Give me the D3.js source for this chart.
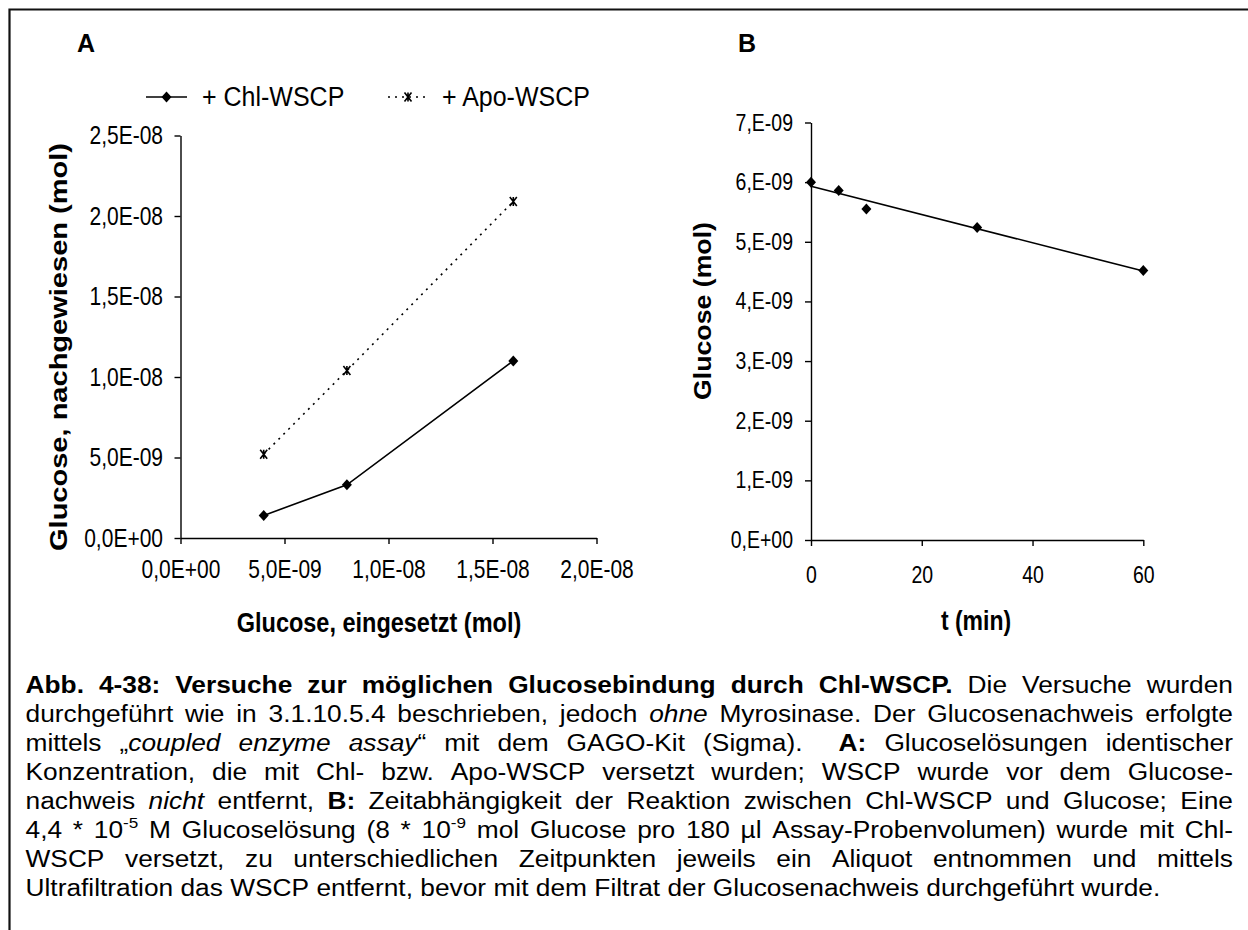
<!DOCTYPE html>
<html>
<head>
<meta charset="utf-8">
<script src="https://cdn.jsdelivr.net/npm/d3@7"></script>
<style>
  body { margin: 0; background: #fff; }
  svg { display: block; font-family: "Liberation Sans", Arial, sans-serif; }
</style>
</head>
<body>
<svg id="fig" width="1248" height="930"></svg>
<script>
// ---- Panel A: glucose recovered vs. glucose added ----
const inputA   = [4e-9, 8e-9, 1.6e-8];
const chlA     = [1.4e-9, 3.3e-9, 1.1e-8];
const apoA     = [5.2e-9, 1.04e-8, 2.09e-8];
const xTicksA  = [0, 5e-9, 1e-8, 1.5e-8, 2e-8];
const yTicksA  = [0, 5e-9, 1e-8, 1.5e-8, 2e-8, 2.5e-8];
const seriesA  = ["+ Chl-WSCP", "+ Apo-WSCP"];

// ---- Panel B: glucose over time with Chl-WSCP ----
const timeB    = [0, 5, 10, 30, 60];
const glucB    = [6.0e-9, 5.86e-9, 5.55e-9, 5.24e-9, 4.52e-9];
const xTicksB  = [0, 20, 40, 60];
const yTicksB  = [0, 1e-9, 2e-9, 3e-9, 4e-9, 5e-9, 6e-9, 7e-9];

// ---- Caption (§ = bold, ~ = italic, ^ = superscript) ----
const captionLines = [
  "§Abb. 4-38: Versuche zur möglichen Glucosebindung durch Chl-WSCP.§ Die Versuche wurden",
  "durchgeführt wie in 3.1.10.5.4 beschrieben, jedoch ~ohne~ Myrosinase. Der Glucosenachweis erfolgte",
  "mittels „~coupled enzyme assay~“ mit dem GAGO-Kit (Sigma).  §A:§ Glucoselösungen identischer",
  "Konzentration, die mit Chl- bzw. Apo-WSCP versetzt wurden; WSCP wurde vor dem Glucose-",
  "nachweis ~nicht~ entfernt, §B:§ Zeitabhängigkeit der Reaktion zwischen Chl-WSCP und Glucose; Eine",
  "4,4 * 10^-5^ M Glucoselösung (8 * 10^-9^ mol Glucose pro 180 µl Assay-Probenvolumen) wurde mit Chl-",
  "WSCP versetzt, zu unterschiedlichen Zeitpunkten jeweils ein Aliquot entnommen und mittels",
  "Ultrafiltration das WSCP entfernt, bevor mit dem Filtrat der Glucosenachweis durchgeführt wurde."
];

const svg = d3.select("#fig");
const K = 1.2; // vertical stretch of the embedded chart lettering

// frame
svg.append("path")
  .attr("d", "M9.5,930 L9.5,9.5 L1248,9.5")
  .attr("fill", "none").attr("stroke", "#111").attr("stroke-width", 2.2);

// number formats in the German Excel style
function sciFmt(decimals) {
  return v => {
    if (v === 0) return (decimals ? "0,0" : "0,") + "E+00";
    const e = Math.floor(Math.log10(Math.abs(v)) + 1e-9);
    const m = v / Math.pow(10, e);
    const ms = decimals ? m.toFixed(decimals).replace(".", ",") : m.toFixed(0) + ",";
    return ms + "E" + (e < 0 ? "-" : "+") + String(Math.abs(e)).padStart(2, "0");
  };
}

const diamond = (w, h) => `M0,${-h}L${w},0L0,${h}L${-w},0Z`;
const star = (w, h) => `M${-w},${-h}L${w},${h}M${w},${-h}L${-w},${h}M0,${-h}L0,${h}`;

function styleAxis(g, fontSize) {
  g.select(".domain").attr("stroke", "#000").attr("stroke-width", 1.4);
  g.selectAll(".tick line").attr("stroke", "#000").attr("stroke-width", 1.4);
  g.selectAll(".tick text").attr("fill", "#000")
    .style("font-size", fontSize + "px")
    .style("font-family", '"Liberation Sans", Arial, sans-serif')
    .each(function () {
      const t = d3.select(this);
      const y = +t.attr("y") || 0;
      t.attr("y", 0).attr("transform", `translate(0,${y}) scale(1,${K})`);
    });
}

// horizontal label stretched vertically around its baseline
function label(x, y, txt, size, opts = {}) {
  return svg.append("text")
    .attr("transform", `translate(${x},${y}) scale(1,${opts.k ?? K})`)
    .attr("text-anchor", opts.anchor || "start")
    .attr("font-weight", opts.bold ? "bold" : null)
    .attr("font-size", size).text(txt);
}

// ================= Panel A =================
const xA = d3.scaleLinear().domain([0, 2e-8]).range([180.5, 596.5]);
const yA = d3.scaleLinear().domain([0, 2.5e-8]).range([538, 135.5]);

label(77, 52, "A", 25, { bold: true, k: 1.05 });

svg.append("g").attr("transform", `translate(0,${yA(0)})`)
  .call(d3.axisBottom(xA).tickValues(xTicksA).tickFormat(sciFmt(1))
        .tickSize(6).tickSizeOuter(0).tickPadding(16))
  .call(g => styleAxis(g, 21));

svg.append("g").attr("transform", `translate(${xA(0)},0)`)
  .call(d3.axisLeft(yA).tickValues(yTicksA).tickFormat(sciFmt(1))
        .tickSize(6).tickSizeOuter(0).tickPadding(11.5))
  .call(g => styleAxis(g, 21));

label(379, 632, "Glucose, eingesetzt (mol)", 23.5, { anchor: "middle", bold: true });

svg.append("text")
  .attr("transform", "translate(67,347) rotate(-90)")
  .attr("text-anchor", "middle").attr("font-weight", "bold").attr("font-size", 24)
  .attr("textLength", 408).attr("lengthAdjust", "spacingAndGlyphs")
  .text("Glucose, nachgewiesen (mol)");

const ptsChl = inputA.map((x, i) => [x, chlA[i]]);
const ptsApo = inputA.map((x, i) => [x, apoA[i]]);
const lineA = d3.line().x(d => xA(d[0])).y(d => yA(d[1]));

svg.append("path").attr("d", lineA(ptsApo))
  .attr("fill", "none").attr("stroke", "#000").attr("stroke-width", 1.6)
  .attr("stroke-dasharray", "2,5");
svg.append("path").attr("d", lineA(ptsChl))
  .attr("fill", "none").attr("stroke", "#000").attr("stroke-width", 1.6);

svg.selectAll(".mChl").data(ptsChl).join("path")
  .attr("transform", d => `translate(${xA(d[0])},${yA(d[1])})`)
  .attr("d", diamond(5, 5.5)).attr("fill", "#000");
svg.selectAll(".mApo").data(ptsApo).join("path")
  .attr("transform", d => `translate(${xA(d[0])},${yA(d[1])})`)
  .attr("d", star(3.5, 4.5)).attr("fill", "none").attr("stroke", "#000").attr("stroke-width", 1.6);

// legend
const legY = 97;
svg.append("line").attr("x1", 146).attr("x2", 187).attr("y1", legY).attr("y2", legY)
  .attr("stroke", "#000").attr("stroke-width", 1.6);
svg.append("path").attr("transform", `translate(166.5,${legY})`).attr("d", diamond(5, 5.5)).attr("fill", "#000");
label(202, 106, seriesA[0], 25, { k: 1.12 });
svg.append("line").attr("x1", 388).attr("x2", 428).attr("y1", legY).attr("y2", legY)
  .attr("stroke", "#000").attr("stroke-width", 1.6).attr("stroke-dasharray", "2,5");
svg.append("path").attr("transform", `translate(408,${legY})`).attr("d", star(3.5, 4.5))
  .attr("fill", "none").attr("stroke", "#000").attr("stroke-width", 1.6);
label(442, 106, seriesA[1], 25, { k: 1.12 });

// ================= Panel B =================
const xB = d3.scaleLinear().domain([0, 60]).range([811, 1143.3]);
const yB = d3.scaleLinear().domain([0, 7e-9]).range([540, 122.5]);

label(738, 52, "B", 25, { bold: true, k: 1.05 });

svg.append("g").attr("transform", `translate(0,${yB(0)})`)
  .call(d3.axisBottom(xB).tickValues(xTicksB).tickFormat(d3.format("d"))
        .tickSize(6).tickSizeOuter(0).tickPadding(20.5))
  .call(g => styleAxis(g, 19.5));

svg.append("g").attr("transform", `translate(${xB(0)},0)`)
  .call(d3.axisLeft(yB).tickValues(yTicksB).tickFormat(sciFmt(0))
        .tickSize(6).tickSizeOuter(0).tickPadding(12))
  .call(g => styleAxis(g, 19.5));

label(976, 630, "t (min)", 23, { anchor: "middle", bold: true });

svg.append("text")
  .attr("transform", "translate(711,311) rotate(-90)")
  .attr("text-anchor", "middle").attr("font-weight", "bold").attr("font-size", 24)
  .attr("textLength", 178).attr("lengthAdjust", "spacingAndGlyphs")
  .text("Glucose (mol)");

// least-squares trend line through the time series
const mt = d3.mean(timeB), mg = d3.mean(glucB);
const slope = d3.sum(timeB, (t, i) => (t - mt) * (glucB[i] - mg)) / d3.sum(timeB, t => (t - mt) ** 2);
const icpt = mg - slope * mt;
const tExt = d3.extent(timeB);
svg.append("line")
  .attr("x1", xB(tExt[0])).attr("y1", yB(icpt + slope * tExt[0]))
  .attr("x2", xB(tExt[1])).attr("y2", yB(icpt + slope * tExt[1]))
  .attr("stroke", "#000").attr("stroke-width", 1.6);

svg.selectAll(".mB").data(timeB.map((t, i) => [t, glucB[i]])).join("path")
  .attr("transform", d => `translate(${xB(d[0])},${yB(d[1])})`)
  .attr("d", diamond(5, 5.5)).attr("fill", "#000");

// ================= Caption (justified) =================
function parseWords(line) {
  let bold = false, ital = false, sup = false;
  const words = [[]];
  for (const ch of line) {
    if (ch === "§") { bold = !bold; continue; }
    if (ch === "~") { ital = !ital; continue; }
    if (ch === "^") { sup = !sup; continue; }
    if (ch === " ") { words.push([]); continue; }
    const w = words[words.length - 1];
    const last = w[w.length - 1];
    if (last && last.bold === bold && last.ital === ital && last.sup === sup) last.text += ch;
    else w.push({ text: ch, bold, ital, sup });
  }
  return words;
}

// caption lettering is slightly wider than the plain face
const capFont = 23.5, capSX = 1.12;
const capLeft = 25.5, capRight = 1233, capTop = 693, capLead = 29;
const cap = svg.append("g")
  .attr("transform", `translate(${capLeft},0) scale(${capSX},1)`)
  .style("font-size", capFont + "px");
const capWidth = (capRight - capLeft) / capSX;

function textWidth(t) {
  const node = t.node();
  return node.textContent.length ? node.getComputedTextLength() : 0;
}

captionLines.forEach((line, li) => {
  const y = capTop + li * capLead;
  const words = parseWords(line);
  const nodes = words.map(runs => {
    const t = cap.append("text").attr("y", y);
    let raised = false;
    runs.forEach(r => {
      const ts = t.append("tspan").text(r.text)
        .attr("font-weight", r.bold ? "bold" : null)
        .attr("font-style", r.ital ? "italic" : null);
      if (r.sup) {
        ts.attr("font-size", capFont * 0.65);
        if (!raised) { ts.attr("dy", -capFont * 0.42); raised = true; }
      } else if (raised) { ts.attr("dy", capFont * 0.42); raised = false; }
    });
    return t;
  });
  const widths = nodes.map(textWidth);
  const total = d3.sum(widths);
  const isLast = li === captionLines.length - 1;
  const gap = isLast ? capFont * 0.278 : (capWidth - total) / (nodes.length - 1);
  let x = 0;
  nodes.forEach((t, i) => { t.attr("x", x); x += widths[i] + gap; });
});
</script>
</body>
</html>
